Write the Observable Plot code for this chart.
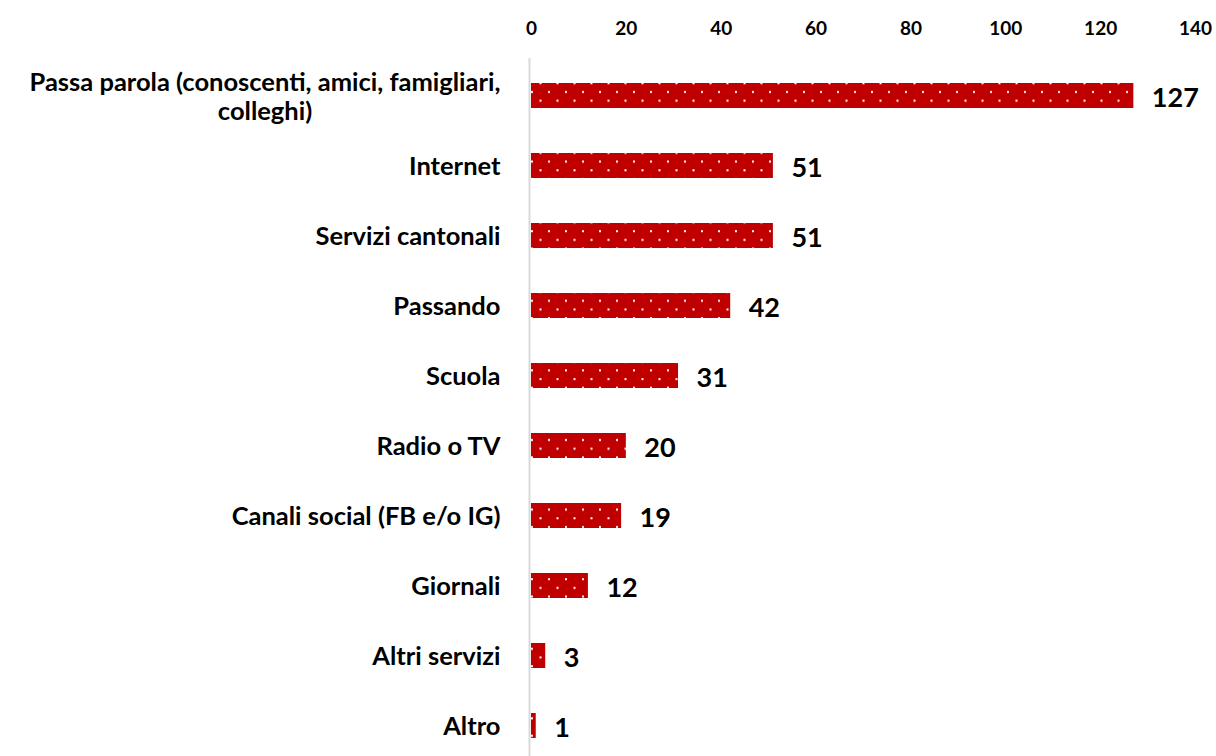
<!DOCTYPE html>
<html><head><meta charset="utf-8">
<script src="https://cdn.jsdelivr.net/npm/d3@7"></script>
<script src="https://cdn.jsdelivr.net/npm/@observablehq/plot@0.6"></script>
<style>body{margin:0;background:#fff;}</style>
</head><body><div id="chart"></div>
<script>
const categories = [
  "Passa parola (conoscenti, amici, famigliari,\ncolleghi)",
  "Internet",
  "Servizi cantonali",
  "Passando",
  "Scuola",
  "Radio o TV",
  "Canali social (FB e/o IG)",
  "Giornali",
  "Altri servizi",
  "Altro"
];
const values = [127, 51, 51, 42, 31, 20, 19, 12, 3, 1];
const xTicks = [0, 20, 40, 60, 80, 100, 120, 140];

const data = categories.map((c, i) => ({category: c, value: values[i]}));

const chart = Plot.plot({
  width: 1216,
  height: 756,
  marginTop: 58,
  marginBottom: -6,
  marginLeft: 531,
  marginRight: 21,
  style: {fontFamily: "Lato, 'Open Sans', sans-serif", fontWeight: "bold", background: "#fff", color: "#000"},
  x: {domain: [0, 140], label: null, axis: null},
  y: {domain: categories, paddingInner: 0.645, paddingOuter: 0.3225, label: null, axis: null},
  marks: [
    Plot.barX(data, {y: "category", x: "value", fill: "url(#dots)"}),
    Plot.ruleX([0], {stroke: "#d9d9d9", strokeWidth: 2, dx: -2}),
    Plot.text(data, {y: "category", x: "value", text: d => String(d.value), textAnchor: "start", dx: 18, dy: 2, fontSize: 27, fontWeight: "bold", fill: "#000"}),
    Plot.axisX({anchor: "top", ticks: xTicks, tickSize: 0, tickPadding: 24, fontSize: 19, fontWeight: "bold", label: null, fill: "#000"}),
    Plot.axisY({anchor: "left", tickSize: 0, tickPadding: 31, fontSize: 25.5, fontWeight: "bold", lineHeight: 1.16, label: null, fill: "#000"})
  ]
});

document.getElementById("chart").appendChild(chart);

const svg = d3.select(chart);
const defs = svg.insert("defs", ":first-child");
const pat = defs.append("pattern").attr("id", "dots").attr("patternUnits", "userSpaceOnUse")
  .attr("width", 17).attr("height", 17.4);
pat.append("rect").attr("width", 17).attr("height", 17.4).attr("fill", "#C00000");
pat.append("rect").attr("x", 4).attr("y", 4).attr("width", 2).attr("height", 2).attr("fill", "#fff");
pat.append("rect").attr("x", 12.5).attr("y", 12.7).attr("width", 2).attr("height", 2).attr("fill", "#fff");

// center multi-line y labels within their block (right-aligned block)
svg.selectAll('g[aria-label="y-axis tick label"] text').each(function() {
  const tspans = this.querySelectorAll("tspan");
  if (tspans.length > 1) {
    let W = 0;
    tspans.forEach(t => { W = Math.max(W, t.getComputedTextLength()); });
    this.setAttribute("text-anchor", "middle");
    tspans.forEach(t => t.setAttribute("x", -W / 2));
  }
});
</script>
</body></html>
